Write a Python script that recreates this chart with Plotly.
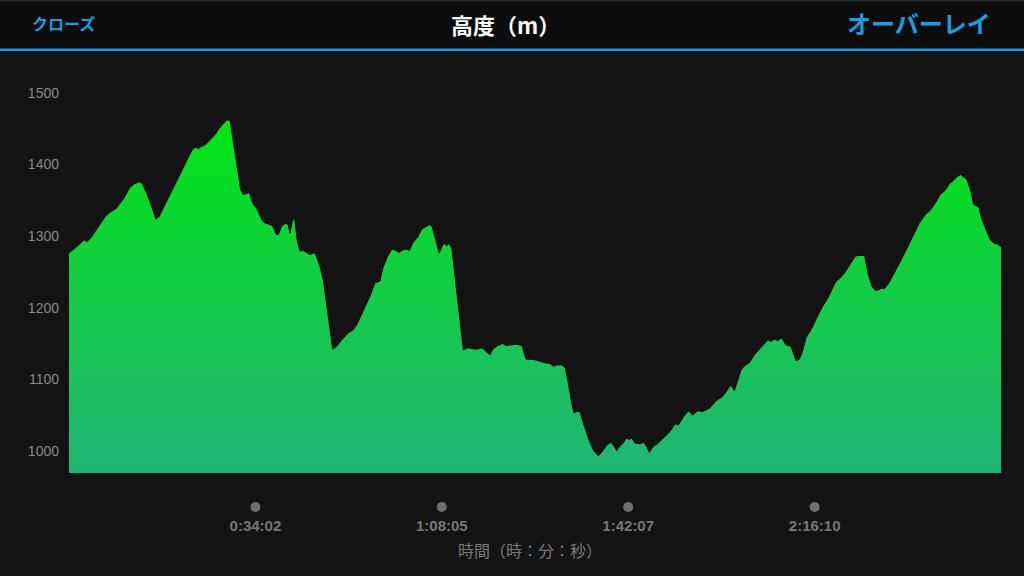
import plotly.graph_objects as go

# elapsed time (minutes) and elevation (m)
time_min = [0.00, 0.60, 1.83, 2.74, 3.23, 3.96, 5.17, 6.70, 7.62, 8.53, 10.04, 10.96, 11.87, 12.97, 13.39,
            14.30, 15.21, 15.83, 16.44, 17.35, 18.86, 20.09, 21.31, 22.52, 23.14, 23.74, 24.05, 24.96, 25.88,
            26.79, 27.39, 28.07, 28.80, 29.40, 29.89, 30.63, 31.36, 31.83, 32.45, 32.93, 33.66, 34.28, 35.19,
            35.61, 36.71, 37.31, 37.80, 38.22, 38.84, 39.57, 40.05, 40.36, 40.85, 41.22, 41.69, 42.19, 42.79,
            43.41, 44.01, 44.92, 45.84, 46.44, 47.06, 47.66, 48.16, 48.89, 49.80, 51.01, 51.92, 52.54, 53.75,
            54.97, 55.88, 56.79, 57.29, 58.20, 58.99, 59.72, 60.32, 60.81, 61.54, 62.15, 62.77, 63.68, 64.46,
            65.20, 65.80, 66.29, 67.02, 67.62, 68.12, 68.54, 68.97, 69.45, 69.94, 70.67, 71.28, 72.01, 72.81,
            74.33, 75.42, 76.15, 76.88, 77.38, 78.29, 79.20, 79.80, 80.72, 81.63, 82.73, 83.46, 84.68, 85.10,
            86.01, 86.93, 87.84, 88.44, 89.06, 89.98, 90.58, 91.18, 91.80, 92.22, 92.72, 93.32, 93.92, 94.84,
            95.75, 96.66, 97.28, 98.19, 98.93, 99.53, 100.02, 100.62, 101.23, 101.72, 102.32, 102.76, 103.36,
            104.28, 105.01, 105.50, 105.97, 106.70, 107.62, 108.53, 109.75, 110.67, 111.27, 112.18, 113.10,
            113.90, 114.81, 115.73, 116.46, 117.06, 118.16, 119.38, 120.29, 120.89, 121.50, 122.12, 122.72,
            123.51, 124.24, 125.15, 126.37, 127.60, 128.20, 128.80, 129.42, 130.15, 130.94, 131.85, 132.27,
            132.77, 133.37, 133.86, 134.59, 135.50, 136.42, 137.64, 138.55, 139.47, 140.07, 140.67, 141.59,
            142.68, 143.60, 144.21, 145.31, 145.91, 146.64, 147.25, 147.87, 148.34, 148.96, 149.69, 150.90,
            152.12, 153.35, 154.26, 155.28, 156.38, 157.29, 158.20, 159.12, 160.03, 160.76, 161.56, 162.17,
            162.77, 163.39, 163.99, 164.60, 165.22, 166.13, 166.73, 167.46, 168.25, 168.87, 169.47, 170.07,
            170.20]
elevation_m = [1277, 1280, 1288, 1295, 1292, 1297, 1311, 1328, 1334, 1338, 1353, 1366, 1373, 1376, 1373,
               1358, 1339, 1324, 1327, 1341, 1365, 1383, 1402, 1421, 1424, 1422, 1425, 1428, 1435,
               1443, 1450, 1456, 1462, 1462, 1439, 1402, 1365, 1358, 1360, 1361, 1344, 1339, 1323,
               1319, 1316, 1313, 1303, 1302, 1314, 1318, 1316, 1304, 1324, 1323, 1293, 1279, 1280,
               1277, 1274, 1277, 1258, 1239, 1206, 1169, 1142, 1146, 1155, 1165, 1169, 1176, 1195,
               1216, 1235, 1237, 1255, 1272, 1282, 1280, 1277, 1280, 1282, 1280, 1290, 1299, 1310,
               1314, 1316, 1314, 1292, 1276, 1286, 1290, 1286, 1290, 1282, 1232, 1183, 1141, 1144,
               1142, 1144, 1139, 1134, 1142, 1147, 1150, 1147, 1148, 1149, 1147, 1128, 1128, 1127,
               1125, 1123, 1122, 1118, 1120, 1120, 1117, 1095, 1067, 1053, 1055, 1055, 1039, 1018,
               1001, 993, 998, 1008, 1012, 1007, 1000, 1007, 1011, 1018, 1016, 1018, 1011,
               1010, 1012, 1006, 998, 1006, 1011, 1018, 1027, 1038, 1036, 1047, 1056,
               1050, 1056, 1055, 1058, 1060, 1070, 1076, 1086, 1092, 1084, 1099, 1113,
               1120, 1123, 1134, 1145, 1155, 1153, 1156, 1154, 1158, 1148, 1146, 1137,
               1126, 1128, 1137, 1158, 1169, 1184, 1202, 1213, 1227, 1237, 1240, 1248,
               1261, 1272, 1273, 1273, 1248, 1230, 1224, 1225, 1227, 1227, 1234, 1251,
               1269, 1288, 1302, 1318, 1330, 1336, 1346, 1358, 1364, 1373, 1378, 1383,
               1386, 1383, 1379, 1365, 1344, 1341, 1323, 1309, 1295, 1290, 1289, 1286,
               1285]

x_tick_vals = [34.04, 68.08, 102.12, 136.17]
x_tick_text = ["0:34:02", "1:08:05", "1:42:07", "2:16:10"]
y_tick_vals = [1000, 1100, 1200, 1300, 1400, 1500]
y_range = [969, 1546]
x_range = [0, 170.2]

title_text = "高度（m）"
left_button = "クローズ"
right_button = "オーバーレイ"
x_axis_title = "時間（時：分：秒）"

W, H = 1024, 576
ML, MR, MT, MB = 69, 23, 60, 103
PW, PH = W - ML - MR, H - MT - MB

def px_to_paper_y(py):
    return (H - MB - py) / PH

def px_to_paper_x(px):
    return (px - ML) / PW

BG = "#131313"
HEADER = "#0c0c0c"
BLUE = "#1a9de0"

fig = go.Figure()
fig.add_trace(go.Scatter(
    x=time_min, y=elevation_m, mode="lines", fill="tozeroy",
    line=dict(color="#080808", width=1),
    fillgradient=dict(type="vertical", start=y_range[0], stop=max(elevation_m),
                      colorscale=[[0, "#20b576"], [0.5, "#14cb47"], [1, "#00e512"]]),
    hoverinfo="skip", showlegend=False,
))

shapes = [
    dict(type="rect", xref="paper", yref="paper",
         x0=px_to_paper_x(0), x1=px_to_paper_x(W), y0=px_to_paper_y(49), y1=px_to_paper_y(0),
         fillcolor=HEADER, line=dict(width=0), layer="below"),
    dict(type="rect", xref="paper", yref="paper",
         x0=px_to_paper_x(0), x1=px_to_paper_x(W), y0=px_to_paper_y(1.5), y1=px_to_paper_y(0),
         fillcolor="#2a2a2a", line=dict(width=0), layer="below"),
    dict(type="rect", xref="paper", yref="paper",
         x0=px_to_paper_x(0), x1=px_to_paper_x(W), y0=px_to_paper_y(51), y1=px_to_paper_y(48.5),
         fillcolor=BLUE, line=dict(width=0)),
]
for tv in x_tick_vals:
    shapes.append(dict(type="circle", xref="x", yref="paper",
                       xsizemode="pixel", ysizemode="pixel",
                       xanchor=tv, yanchor=px_to_paper_y(507),
                       x0=-5, x1=5, y0=-5, y1=5,
                       fillcolor="#6f6f6f", line=dict(width=0)))

annotations = [
    dict(text=f"<b>{title_text}</b>", xref="paper", yref="paper",
         x=px_to_paper_x(505), y=px_to_paper_y(24), showarrow=False,
         font=dict(family="Noto Sans CJK JP", size=22, color="#ffffff"),
         xanchor="center", yanchor="middle"),
    dict(text=f"<b>{left_button}</b>", xref="paper", yref="paper",
         x=px_to_paper_x(30), y=px_to_paper_y(23), showarrow=False,
         font=dict(family="Noto Sans CJK JP", size=16, color=BLUE),
         xanchor="left", yanchor="middle"),
    dict(text=f"<b>{right_button}</b>", xref="paper", yref="paper",
         x=px_to_paper_x(993), y=px_to_paper_y(23), showarrow=False,
         font=dict(family="Noto Sans CJK JP", size=24, color=BLUE),
         xanchor="right", yanchor="middle"),
    dict(text=x_axis_title, xref="paper", yref="paper",
         x=px_to_paper_x(530), y=px_to_paper_y(550), showarrow=False,
         font=dict(family="Noto Sans CJK JP", size=16, color="#7a7a7a"),
         xanchor="center", yanchor="middle"),
]

fig.update_layout(
    width=W, height=H,
    margin=dict(l=ML, r=MR, t=MT, b=MB, pad=0),
    paper_bgcolor=BG, plot_bgcolor=BG,
    shapes=shapes, annotations=annotations,
    xaxis=dict(range=x_range, showgrid=False, zeroline=False, showline=False,
               tickvals=x_tick_vals, ticktext=[f"<b>{t}</b>" for t in x_tick_text],
               ticks="", ticklabelstandoff=42, fixedrange=True,
               tickfont=dict(family="Liberation Sans", size=15, color="#777777")),
    yaxis=dict(range=y_range, showgrid=False, zeroline=False, showline=False,
               tickvals=y_tick_vals, ticks="", ticklabelstandoff=9, fixedrange=True,
               tickfont=dict(family="Liberation Sans", size=14, color="#8a8a8a")),
)

fig.write_html(
    "out.html",
    config={"displayModeBar": False},
    post_script="document.body.style.margin='0';document.body.style.background='#131313';",
)
